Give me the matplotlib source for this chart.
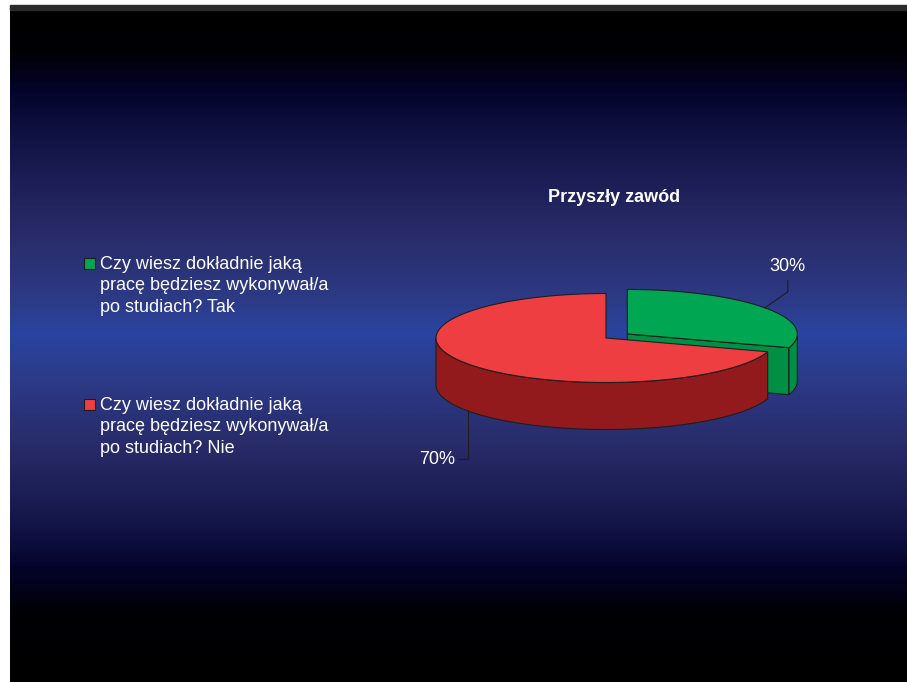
import numpy as np
import matplotlib.pyplot as plt
from matplotlib.patches import Polygon, Rectangle
from matplotlib.colors import LinearSegmentedColormap

plt.rcParams['font.family'] = ['Liberation Sans', 'DejaVu Sans']

# chart data
title = "Przyszły zawód"
labels = ["Czy wiesz dokładnie jaką\npracę będziesz wykonywał/a\npo studiach? Tak",
          "Czy wiesz dokładnie jaką\npracę będziesz wykonywał/a\npo studiach? Nie"]
values = [30, 70]
explode = [0.155, 0.0]
top_colors = ["#00a651", "#ef3e42"]
side_colors = ["#008f45", "#921a1d"]

W, H = 907, 682
fig = plt.figure(figsize=(W / 100, H / 100), dpi=100, facecolor="white")
ax = fig.add_axes([0, 0, 1, 1])
ax.set_xlim(0, W)
ax.set_ylim(H, 0)
ax.axis("off")

# slide background: black -> blue band -> black
stops = [(0.0, "#000000"), (0.06, "#000005"), (0.12, "#04042c"),
         (0.21, "#15174a"), (0.33, "#282b68"), (0.43, "#2d3a85"),
         (0.48, "#2944a0"), (0.55, "#2c3a88"), (0.65, "#282b68"),
         (0.76, "#15174a"), (0.83, "#04042c"), (0.9, "#000005"),
         (1.0, "#000000")]
cmap = LinearSegmentedColormap.from_list("slide", stops)
grad = np.linspace(0, 1, 400).reshape(-1, 1)
ax.imshow(grad, cmap=cmap, aspect="auto", extent=[10, W, H, 10], zorder=0)
ax.add_patch(Rectangle((10, 5), W - 10, 5, color="#2b2b2b", zorder=1))

# 3d pie geometry
cx, cy = 606, 338
a, b, depth = 170, 44.5, 47
edge = dict(edgecolor="#1e1e1e", linewidth=0.8, zorder=3)


def pt(t, ox, oy, dz=0.0):
    return ox + a * np.cos(t), oy - b * np.sin(t) + dz


def arc(t1, t2, ox, oy, dz=0.0, n=120):
    ts = np.linspace(t1, t2, n)
    return np.column_stack([ox + a * np.cos(ts), oy - b * np.sin(ts) + dz])


fracs = np.array(values) / sum(values)
starts = []
t = np.pi / 2
for f in fracs:
    starts.append((t - 2 * np.pi * f, t))  # clockwise from the top
    t -= 2 * np.pi * f

mids = []
for i, (t1, t2) in enumerate(starts):
    mid = (t1 + t2) / 2
    mids.append(mid)
    ox = cx + explode[i] * a * np.cos(mid)
    oy = cy - explode[i] * b * np.sin(mid)

    # radial cut faces that point toward the viewer
    for ang, normal in ((t1, t1 - np.pi / 2), (t2, t2 + np.pi / 2)):
        if np.sin(normal) < -1e-6:
            ex, ey = pt(ang, ox, oy)
            face = [(ox, oy), (ex, ey), (ex, ey + depth), (ox, oy + depth)]
            ax.add_patch(Polygon(face, closed=True, facecolor=side_colors[i], **edge))

    # outer wall on the front half
    for k in range(-1, 2):
        s = max(t1, np.pi + 2 * np.pi * k)
        e = min(t2, 2 * np.pi + 2 * np.pi * k)
        if e > s:
            top_edge = arc(s, e, ox, oy)
            bottom_edge = arc(e, s, ox, oy, depth)
            ax.add_patch(Polygon(np.vstack([top_edge, bottom_edge]), closed=True,
                                 facecolor=side_colors[i], **edge))

    # top surface
    wedge = np.vstack([[ox, oy], arc(t1, t2, ox, oy)])
    ax.add_patch(Polygon(wedge, closed=True, facecolor=top_colors[i], **edge))

# percentage labels with leader lines
lead = dict(color="#1e1e1e", linewidth=0.8, zorder=4)
txt = dict(color="white", fontsize=13, zorder=5)
for i, mid in enumerate(mids):
    ox = cx + explode[i] * a * np.cos(mid)
    oy = cy - explode[i] * b * np.sin(mid)
    x0, y0 = pt(mid, ox, oy)
    pct = f"{values[i]:.0f}%"
    if np.sin(mid) > 0:
        xs = [x0, x0 + 23, x0 + 23]
        ys = [y0, y0 - 16, y0 - 27]
        ax.plot(xs, ys, **lead)
        ax.text(xs[-1], ys[-1] - 6, pct, ha="center", va="bottom", **txt)
    else:
        y0 += depth
        xs = [x0, x0, x0 - 10]
        ys = [y0, y0 + 48, y0 + 48]
        ax.plot(xs, ys, **lead)
        ax.text(xs[-1] - 3, ys[-1], pct, ha="right", va="center", **txt)

ax.text(614, 197, title, ha="center", va="center", color="white",
        fontsize=13, fontweight="bold", zorder=5)

# legend on the left
legend_y = [258, 399]
for i, lab in enumerate(labels):
    ax.add_patch(Rectangle((84, legend_y[i]), 11, 11, facecolor=top_colors[i],
                           edgecolor="#1e1e1e", linewidth=0.8, zorder=4))
    ax.text(100, legend_y[i] - 2, lab, ha="left", va="top", color="white",
            fontsize=13, linespacing=1.33, zorder=5)

fig.savefig("out.png", dpi=100, facecolor="white")
